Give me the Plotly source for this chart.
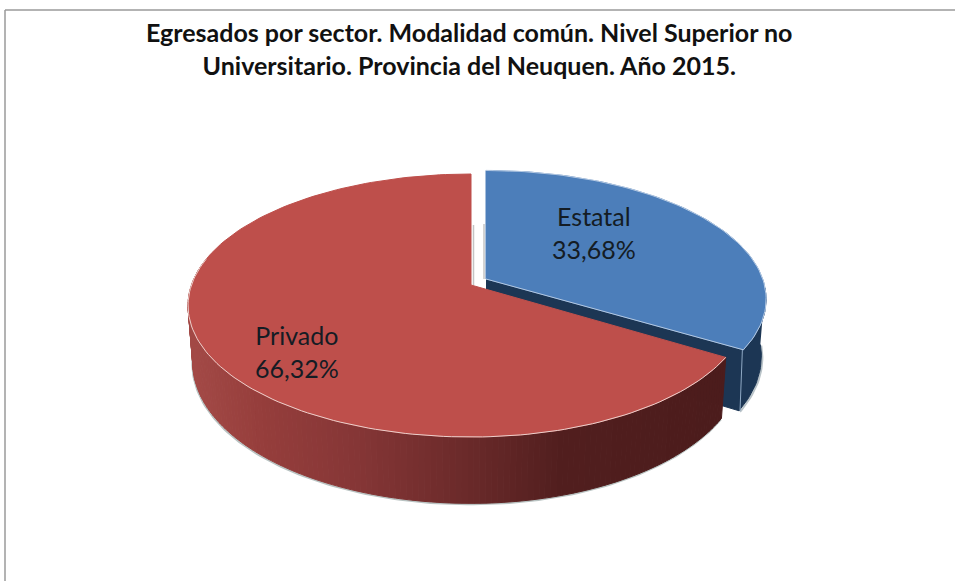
import numpy as np
import plotly.graph_objects as go

# ---- data ----
categories = ["Estatal", "Privado"]
values = [33.68, 66.32]
title_lines = ["Egresados por sector. Modalidad común. Nivel Superior no",
               "Universitario. Provincia del Neuquen. Año 2015."]

# ---- styles / projection of the tilted disc (pixels) ----
W, H = 955, 581
TOP_COL = ["#4c7eba", "#be4f4b"]
BLUE_SIDE = "#1c3654"
RIM = ["#cfdcec", "#ecd0cc"]
APEX = (471.0, 285.0)
OFFSET = (15.0, -6.0)          # explosion of the first slice
A, B, K = 279.5, 128.3, 0.156  # x radius, y radius, perspective
DEPTH = 56.0
BASE_SHRINK = 0.983
SCALE_Y = [0.978, 1.0]
SCALE_X_RIGHT = [0.99, 0.98]
SCALE_X_LEFT = [0.99, 1.0]
GRAD_X = [188, 260, 350, 470, 560, 725]
GRAD_R = [164, 150, 135, 106, 82, 76]
GRAD_G = [74, 62, 55, 42, 31, 28]
GRAD_B = [71, 60, 55, 42, 31, 28]


def project(theta, i, ox=0.0, oy=0.0):
    u, v = np.sin(theta), -np.cos(theta)
    w = 1 - K * v
    sx = np.where(u > 0, SCALE_X_RIGHT[i], SCALE_X_LEFT[i])
    return APEX[0] + ox + sx * A * u / w, APEX[1] + oy + SCALE_Y[i] * B * v / w


def lower(theta, i, ox=0.0, oy=0.0):
    x, y = project(theta, i, ox, oy)
    w = 1 + K * np.cos(theta)
    cx = APEX[0] + ox
    return cx + (x - cx) * BASE_SHRINK, y + DEPTH / w


fig = go.Figure()


def poly(xs, ys, fill, line=None, lw=1.0):
    fig.add_trace(go.Scatter(x=list(xs), y=list(ys), mode="lines", fill="toself",
                             fillcolor=fill, line=dict(color=line or fill, width=lw),
                             hoverinfo="skip", showlegend=False))


def stroke(xs, ys, color, lw=1.0):
    fig.add_trace(go.Scatter(x=list(xs), y=list(ys), mode="lines",
                             line=dict(color=color, width=lw),
                             hoverinfo="skip", showlegend=False))


# slice angles from the values
total = sum(values)
cut = values[0] / total * 2 * np.pi
ob = OFFSET
blue_arc = np.linspace(0, cut, 80)
red_arc = np.linspace(cut, 2 * np.pi, 160)

# --- blue slice: soft shadow, cut face, outer side ---
side_b = np.linspace(np.radians(94), cut, 24)
bx, by = lower(side_b, 0, *ob)
stroke(bx + 1, by + 1, "#b9c3c8", 2)
tx, ty = project(side_b, 0, *ob)
poly(np.r_[tx, bx[::-1]], np.r_[ty, by[::-1]], BLUE_SIDE)
cx0, cy0 = project(cut, 0, *ob)
lx0, ly0 = lower(cut, 0, *ob)
ax0, ay0 = APEX[0] + ob[0], APEX[1] + ob[1]
poly([ax0, cx0, lx0, ax0], [ay0, cy0, ly0, ay0 + DEPTH], BLUE_SIDE)
stroke([cx0 - 1, lx0 + 1], [cy0, ly0], "#8fa9c4", 1)

# --- blue top ---
x, y = project(blue_arc, 0, *ob)
stroke([ax0 - 2, ax0 - 2], [ay0 - 55, ay0], "#c4c4c4", 1.5)
poly(np.r_[ax0, x, ax0], np.r_[ay0, y, ay0], TOP_COL[0])
stroke(x, y, RIM[0], 0.8)
stroke([ax0, cx0], [ay0, cy0], RIM[0], 0.8)

# --- red slice: shadow and shaded outer side ---
side_r = np.linspace(cut, np.radians(282), 150)
bx, by = lower(side_r, 1)
stroke(bx - 0.5, by + 1, "#b9c3c2", 2)
tx, ty = project(side_r, 1)
for i in range(len(side_r) - 1):
    xm = (tx[i] + tx[i + 1]) / 2
    col = "rgb(%d,%d,%d)" % (np.interp(xm, GRAD_X, GRAD_R),
                             np.interp(xm, GRAD_X, GRAD_G),
                             np.interp(xm, GRAD_X, GRAD_B))
    poly([tx[i], tx[i + 1], bx[i + 1], bx[i], tx[i]],
         [ty[i], ty[i + 1], by[i + 1], by[i], ty[i]], col)

# --- red top ---
x, y = project(red_arc, 1)
stroke([APEX[0] + 2.5, APEX[0] + 2.5], [APEX[1] - 60, APEX[1]], "#c4c4c4", 1.5)
poly(np.r_[APEX[0], x, APEX[0]], np.r_[APEX[1], y, APEX[1]], TOP_COL[1])
front = np.linspace(cut, np.radians(282), 120)
fx, fy = project(front, 1)
stroke(fx, fy, RIM[1], 1.0)

# --- frame ---
fig.add_shape(type="line", x0=5, x1=W, y0=10, y1=10, line=dict(color="#9a9a9a", width=1.5))
fig.add_shape(type="line", x0=5, x1=5, y0=10, y1=H, line=dict(color="#9a9a9a", width=1.5))

# --- labels ---
label_xy = [(594, 232), (297, 351)]
for name, val, (lx, ly) in zip(categories, values, label_xy):
    fig.add_annotation(x=lx, y=ly, xref="x", yref="y", showarrow=False, align="center",
                       text=f"{name}<br>{val:.2f}%".replace(".", ","),
                       font=dict(family="Lato", size=25, color="#141c24"))

# --- title ---
fig.add_annotation(x=469, y=48.5, xref="x", yref="y", showarrow=False, align="center",
                   text="<br>".join(title_lines),
                   font=dict(family="Lato", size=25, color="#111111", weight="bold"))

fig.update_layout(
    width=W, height=H, autosize=False,
    margin=dict(l=0, r=0, t=0, b=0),
    paper_bgcolor="white", plot_bgcolor="white",
    showlegend=False, hovermode=False,
    xaxis=dict(range=[0, W], visible=False, fixedrange=True),
    yaxis=dict(range=[H, 0], visible=False, fixedrange=True),
)
fig.write_html("out.html", config={"displayModeBar": False},
               post_script="document.body.style.margin='0';")
